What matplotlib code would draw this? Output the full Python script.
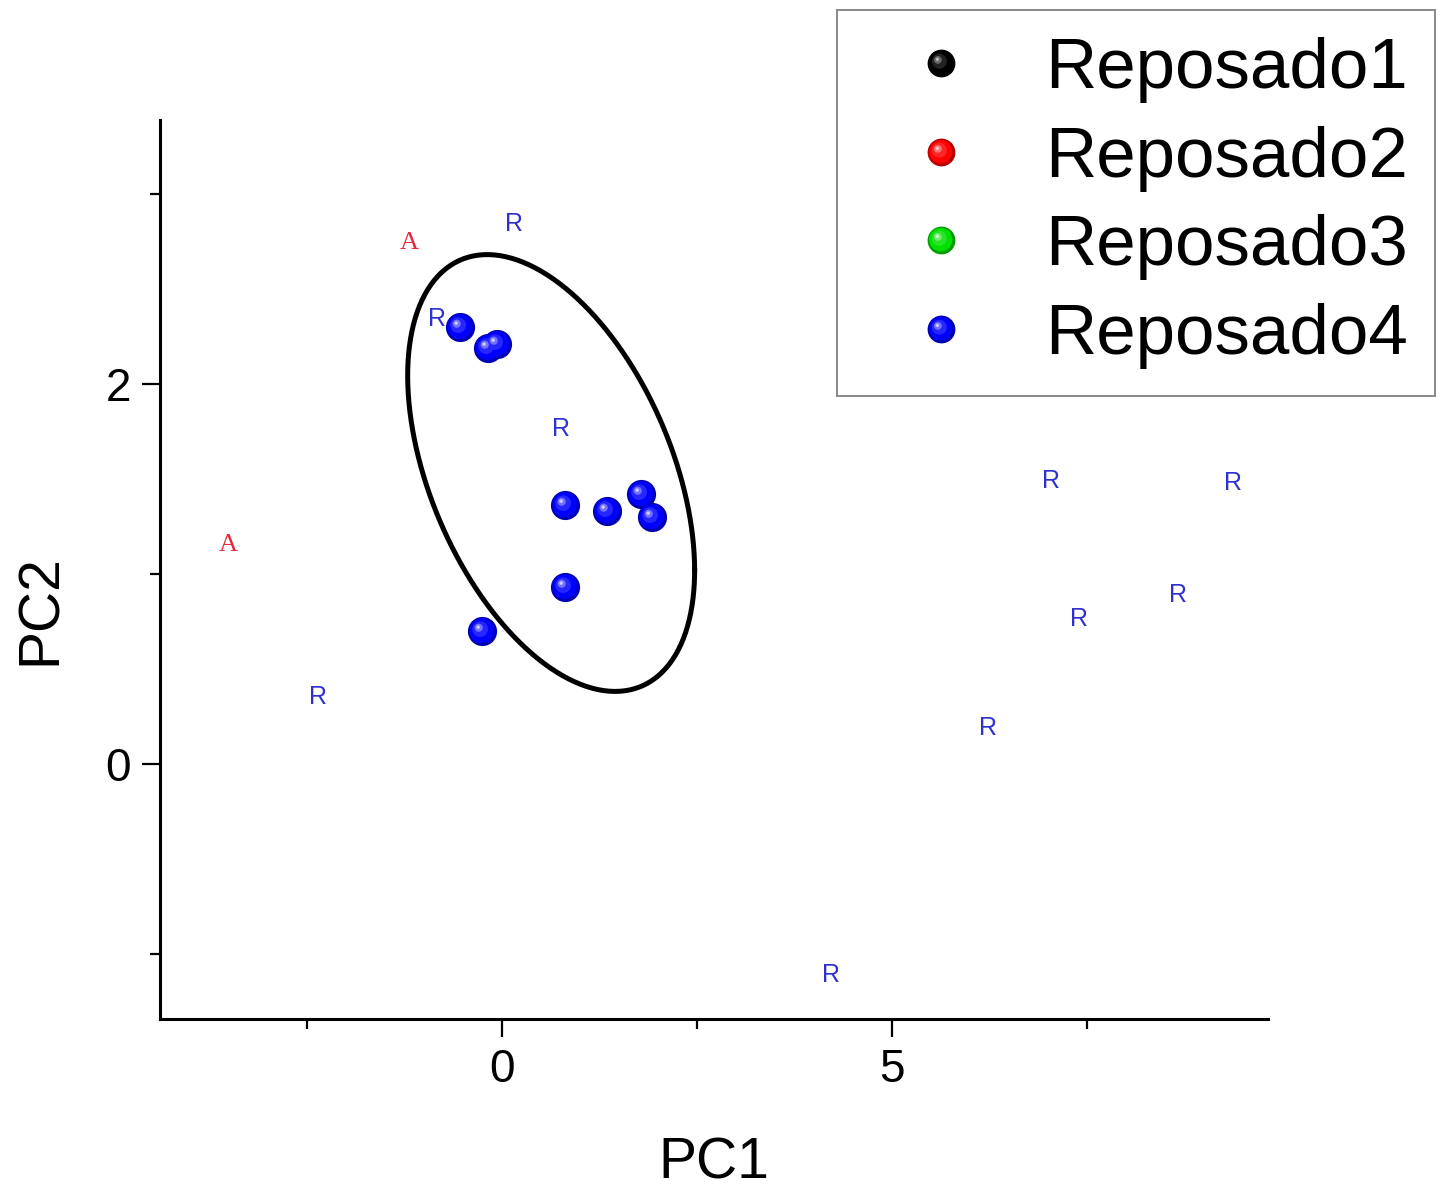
import matplotlib
matplotlib.use("Agg")
import matplotlib.pyplot as plt
import numpy as np
from matplotlib.path import Path
from matplotlib.lines import Line2D
from matplotlib.legend_handler import HandlerTuple
from matplotlib.ticker import MultipleLocator

plt.rcParams["font.family"] = ["Liberation Sans", "DejaVu Sans"]

# PCA scores (Reposado4 group)
pc1 = [-0.54, -0.18, -0.06, 0.81, 1.35, 1.78, 1.93, 0.81, -0.26]
pc2 = [2.30, 2.19, 2.21, 1.36, 1.33, 1.42, 1.30, 0.93, 0.70]

# sample tags drawn as text
r_x = [0.15, -0.83, 0.76, 7.05, 9.38, 8.68, 7.41, 6.23, -2.36, 4.22]
r_y = [2.84, 2.34, 1.76, 1.49, 1.48, 0.89, 0.76, 0.19, 0.35, -1.11]
a_x = [-1.19, -3.51]
a_y = [2.74, 1.15]

# confidence ellipse: centre and scaled covariance
ell_center = [0.63, 1.53]
ell_cov = [[3.39, -0.943], [-0.943, 1.32]]

groups = ["Reposado1", "Reposado2", "Reposado3", "Reposado4"]
group_colors = ["#000000", "#ff0000", "#00e000", "#0000ff"]


def sphere_marker(cx, cy, r):
    # circle marker with dummy corner vertices so the size is not renormalised
    circ = Path.circle(center=(cx, cy), radius=r)
    anchor = Path([[0.5, 0.5], [0.5, 0.5], [-0.5, -0.5], [-0.5, -0.5]],
                  [Path.MOVETO, Path.LINETO, Path.MOVETO, Path.LINETO])
    return Path.make_compound_path(anchor, circ)


def layer_color(color, k):
    c = np.array(matplotlib.colors.to_rgb(color))
    if k < 0:
        return tuple(c * (1 + k))
    if color == "#000000":
        k *= 0.9
    return tuple(c + (1 - c) * k)


# layers of a shaded ball: (cx, cy, r, lighten)
ball_layers = [
    (0.0, 0.0, 0.5, -0.3),
    (-0.03, 0.03, 0.42, 0.0),
    (-0.08, 0.08, 0.27, 0.15),
    (-0.13, 0.13, 0.14, 0.45),
    (-0.15, 0.15, 0.06, 0.8),
]


def ball_handles(color, size):
    hs = []
    for cx, cy, r, k in ball_layers:
        hs.append(Line2D([], [], linestyle="none", marker=sphere_marker(cx, cy, r),
                         markersize=size, markerfacecolor=layer_color(color, k),
                         markeredgewidth=0))
    return tuple(hs)


fig = plt.figure(figsize=(14.41, 11.96), dpi=100)
ax = fig.add_axes([0.111, 0.148, 0.769, 0.752])

for cx, cy, r, k in ball_layers:
    ax.plot(pc1, pc2, linestyle="none", marker=sphere_marker(cx, cy, r),
            markersize=21, markerfacecolor=layer_color("#0000ff", k),
            markeredgewidth=0, zorder=4)

for x, y in zip(r_x, r_y):
    ax.text(x, y, "R", color="#3030d0", fontsize=18, ha="center", va="center", zorder=5)
for x, y in zip(a_x, a_y):
    ax.text(x, y, "A", color="#e42a3c", fontsize=19, ha="center", va="center",
            family=["Liberation Serif"], zorder=5)

# ellipse outline
t = np.linspace(0, 2 * np.pi, 300)
L = np.linalg.cholesky(np.array(ell_cov))
pts = L @ np.vstack([np.cos(t), np.sin(t)])
ax.plot(ell_center[0] + pts[0], ell_center[1] + pts[1], color="black", lw=3.6, zorder=3)

ax.set_xlim(-4.39, 9.83)
ax.set_ylim(-1.342, 3.389)
ax.xaxis.set_major_locator(MultipleLocator(5))
ax.xaxis.set_minor_locator(MultipleLocator(2.5))
ax.yaxis.set_major_locator(MultipleLocator(2))
ax.yaxis.set_minor_locator(MultipleLocator(1))
ax.tick_params(which="major", length=13, width=1.6, labelsize=33, pad=8, direction="out")
ax.tick_params(which="minor", length=7, width=1.6, direction="out")
for side in ("top", "right"):
    ax.spines[side].set_visible(False)
for side in ("left", "bottom"):
    ax.spines[side].set_linewidth(2.2)

ax.set_xlabel("PC1", fontsize=41, labelpad=32)
ax.set_ylabel("PC2", fontsize=41, labelpad=27, y=0.455)

handles = [ball_handles(c, 20) for c in group_colors]
leg = fig.legend(handles, groups, loc="upper right",
                 bbox_to_anchor=(1435 / 1441, 1 - 10 / 1196),
                 handler_map={tuple: HandlerTuple(ndivide=1, pad=0)},
                 fontsize=51, frameon=True, fancybox=False, framealpha=1,
                 edgecolor="#888888", borderpad=0.38, handlelength=2.17,
                 handletextpad=0.39, labelspacing=0.32, borderaxespad=0)
leg.get_frame().set_linewidth(1.4)

fig.savefig("out.png", dpi=100)
